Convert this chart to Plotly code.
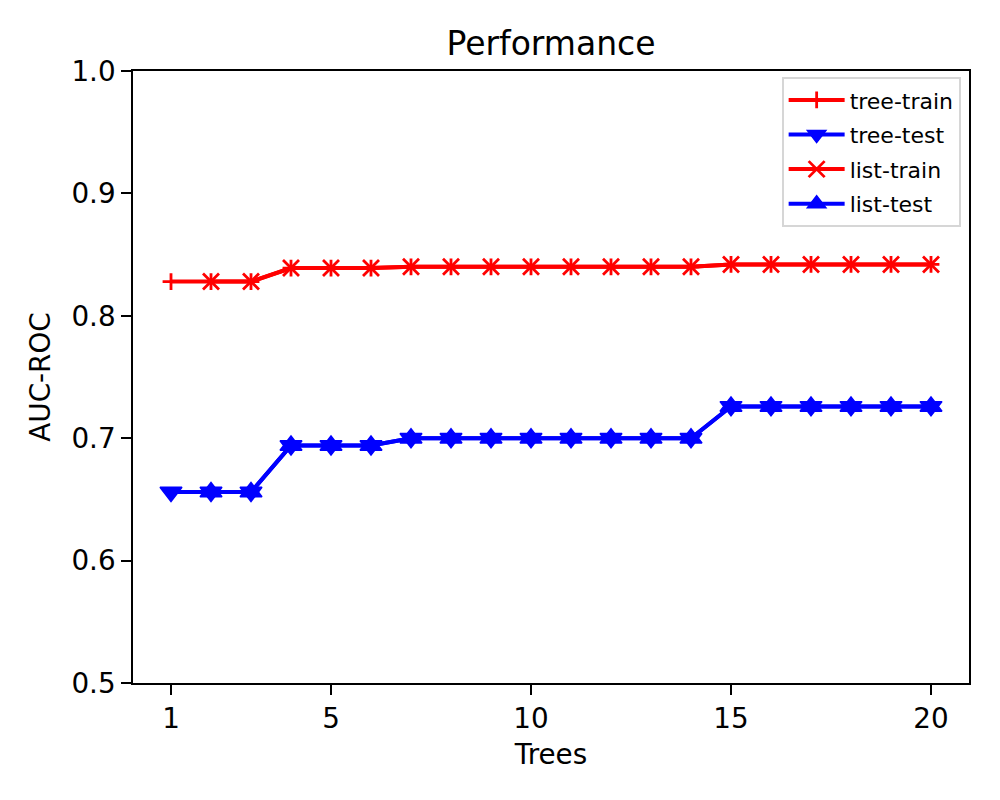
import plotly.graph_objects as go

trees_tree = [1, 2, 3, 4, 5, 6, 7, 8, 9, 10, 11, 12, 13, 14, 15, 16, 17, 18, 19, 20]
trees_list = [2, 3, 4, 5, 6, 7, 8, 9, 10, 11, 12, 13, 14, 15, 16, 17, 18, 19, 20]

tree_train = [0.828, 0.828, 0.828, 0.839, 0.839, 0.839, 0.840, 0.840, 0.840, 0.840,
              0.840, 0.840, 0.840, 0.840, 0.842, 0.842, 0.842, 0.842, 0.842, 0.842]
tree_test = [0.656, 0.656, 0.656, 0.694, 0.694, 0.694, 0.700, 0.700, 0.700, 0.700,
             0.700, 0.700, 0.700, 0.700, 0.726, 0.726, 0.726, 0.726, 0.726, 0.726]
list_train = [0.828, 0.828, 0.839, 0.839, 0.839, 0.840, 0.840, 0.840, 0.840,
              0.840, 0.840, 0.840, 0.840, 0.842, 0.842, 0.842, 0.842, 0.842, 0.842]
list_test = [0.656, 0.656, 0.694, 0.694, 0.694, 0.700, 0.700, 0.700, 0.700,
             0.700, 0.700, 0.700, 0.700, 0.726, 0.726, 0.726, 0.726, 0.726, 0.726]

x_ticks = [1, 5, 10, 15, 20]
y_ticks = [0.5, 0.6, 0.7, 0.8, 0.9, 1.0]

RED = "#ff0000"
BLUE = "#0000ff"
FONT = "DejaVu Sans"

fig = go.Figure()
fig.add_trace(go.Scatter(
    x=trees_tree, y=tree_train, name="tree-train", mode="lines+markers", legendgroup="a",
    line=dict(color=RED, width=4),
    marker=dict(symbol="cross-thin", size=12, color=RED, line=dict(color=RED, width=2.8)),
))
fig.add_trace(go.Scatter(
    x=trees_tree, y=tree_test, name="tree-test", mode="lines+markers", legendgroup="b",
    line=dict(color=BLUE, width=4),
    marker=dict(symbol="triangle-down", size=19, color=BLUE, line=dict(color=BLUE, width=1.5)),
))
fig.add_trace(go.Scatter(
    x=trees_list, y=list_train, name="list-train", mode="lines+markers", legendgroup="c",
    line=dict(color=RED, width=4),
    marker=dict(symbol="x-thin", size=16, color=RED, line=dict(color=RED, width=2.8)),
))
fig.add_trace(go.Scatter(
    x=trees_list, y=list_test, name="list-test", mode="lines+markers", legendgroup="d",
    line=dict(color=BLUE, width=4),
    marker=dict(symbol="triangle-up", size=19, color=BLUE, line=dict(color=BLUE, width=1.5)),
))

axis_common = dict(
    showline=True, linecolor="black", linewidth=2.2, mirror=True,
    ticks="outside", ticklen=9.7, tickwidth=2.2, tickcolor="black",
    showgrid=False, zeroline=False,
    tickfont=dict(family=FONT, size=27.8, color="black"),
)

fig.update_layout(
    width=1000, height=800,
    paper_bgcolor="white", plot_bgcolor="white",
    margin=dict(l=125, r=39, t=63, b=125),
    font=dict(family=FONT, color="black"),
    title=dict(text="Performance", x=0.5, xref="paper", xanchor="center",
               y=1 - 35 / 800, yref="container", yanchor="middle",
               font=dict(family=FONT, size=33, color="black")),
    xaxis=dict(range=[0.05, 20.95], tickvals=x_ticks, ticktext=[str(v) for v in x_ticks],
               title=dict(text="Trees", font=dict(family=FONT, size=27.8, color="black"), standoff=10),
               **axis_common),
    yaxis=dict(range=[0.5, 1.0], tickvals=y_ticks, ticktext=[f"{v:.1f}" for v in y_ticks],
               title=dict(text="AUC-ROC", font=dict(family=FONT, size=27.8, color="black"), standoff=13),
               **axis_common),
    legend=dict(x=0.990, y=0.99, xanchor="right", yanchor="top",
                bgcolor="rgba(255,255,255,0.8)", bordercolor="#d6d6d6", borderwidth=2,
                font=dict(family=FONT, size=22, color="black"),
                tracegroupgap=3, itemwidth=56),
    showlegend=True,
)

fig.write_html("out.html")
